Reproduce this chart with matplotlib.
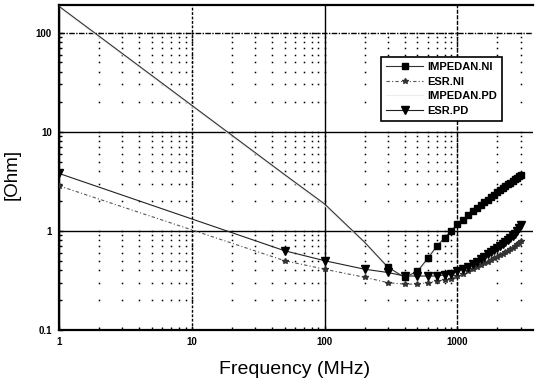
import numpy as np
import matplotlib
matplotlib.use("Agg")
import matplotlib.pyplot as plt
from matplotlib.ticker import FixedLocator, FixedFormatter, NullFormatter

plt.rcParams['font.family'] = ['Liberation Sans', 'DejaVu Sans']

# frequency points (MHz)
freq_low = [1, 50, 100, 200, 300]
freq_high = [400, 500, 600, 700, 800, 900, 1000, 1100, 1200, 1300, 1400,
             1500, 1600, 1700, 1800, 1900, 2000, 2100, 2200, 2300, 2400,
             2500, 2600, 2700, 2800, 2900, 3000]

# impedance / ESR values (Ohm)
imp_ni = [185, 3.7, 1.87, 0.77, 0.43,
          0.34, 0.39, 0.53, 0.70, 0.85, 1.0, 1.17, 1.3, 1.45, 1.58, 1.7,
          1.83, 1.95, 2.07, 2.2, 2.32, 2.45, 2.57, 2.7, 2.82, 2.95,
          3.07, 3.2, 3.33, 3.45, 3.58, 3.7]
esr_ni = [2.85, 0.5, 0.41, 0.34, 0.30,
          0.29, 0.29, 0.30, 0.31, 0.32, 0.33, 0.35, 0.37, 0.39, 0.41, 0.43,
          0.45, 0.47, 0.49, 0.51, 0.53, 0.55, 0.57, 0.59, 0.61, 0.63,
          0.65, 0.67, 0.70, 0.73, 0.76, 0.79]
imp_pd = [180, 3.6, 1.8, 0.75, 0.42,
          0.34, 0.38, 0.50, 0.66, 0.82, 0.97, 1.13, 1.27, 1.42, 1.55, 1.68,
          1.8, 1.93, 2.05, 2.18, 2.3, 2.43, 2.55, 2.68, 2.8, 2.93,
          3.05, 3.18, 3.3, 3.43, 3.56, 3.68]
esr_pd = [3.8, 0.63, 0.50, 0.41, 0.38,
          0.35, 0.35, 0.35, 0.35, 0.36, 0.37, 0.39, 0.41, 0.43, 0.46, 0.49,
          0.52, 0.55, 0.58, 0.61, 0.64, 0.67, 0.70, 0.73, 0.77, 0.81,
          0.85, 0.89, 0.94, 1.0, 1.07, 1.15]

freq = freq_low + freq_high

x_major = [1, 10, 100, 1000]
y_major = [0.1, 1, 10, 100]

fig = plt.figure(figsize=(5.35, 3.85), dpi=100)
ax = fig.add_axes([0.110, 0.143, 0.886, 0.844])

ax.set_xscale('log')
ax.set_yscale('log')
ax.set_xlim(1, 3700)
ax.set_ylim(0.1, 190)

# minor grid drawn as dots where the minor lines cross
x_minor = [d * k for d in x_major for k in range(1, 10) if d * k <= 3700]
y_minor = [d * k for d in y_major for k in range(1, 10) if d * k <= 190]
gx, gy = np.meshgrid(x_minor, y_minor)
ax.plot(gx.ravel(), gy.ravel(), linestyle='none', marker='s', markersize=1.1,
        markeredgewidth=0, color='black', zorder=1)

# major grid, each line with its own style like the scan
ax.grid(which='major', color='black', linewidth=1.0)
xstyles = {1: '-', 10: (0, (2, 1.2)), 100: '-', 1000: (0, (3, 1))}
ystyles = {0.1: '-', 1: '-', 10: '-', 100: (0, (4, 1, 1, 1))}
for val, gl in zip(x_major, ax.get_xgridlines()):
    gl.set_linestyle(xstyles[val])
for val, gl in zip(y_major, ax.get_ygridlines()):
    gl.set_linestyle(ystyles[val])
ax.set_axisbelow(True)

ax.plot(freq, imp_pd, color='#ececec', linewidth=0.8, label='IMPEDAN.PD', zorder=2)
ax.plot(freq, esr_ni, color='#555555', linestyle=(0, (3, 2, 1, 2)), linewidth=0.8,
        marker='*', markersize=4, markerfacecolor='#333333', markeredgecolor='#333333',
        label='ESR.NI', zorder=3)
ax.plot(freq, esr_pd, color='#222222', linestyle='-', linewidth=0.8,
        marker='v', markersize=6, markerfacecolor='black', markeredgecolor='black',
        label='ESR.PD', zorder=4)
ax.plot(freq, imp_ni, color='#333333', linestyle='-', linewidth=0.8,
        marker='s', markersize=5, markerfacecolor='black', markeredgecolor='black',
        markevery=slice(4, None), label='IMPEDAN.NI', zorder=5)

ax.xaxis.set_major_locator(FixedLocator(x_major))
ax.xaxis.set_major_formatter(FixedFormatter(['1', '10', '100', '1000']))
ax.yaxis.set_major_locator(FixedLocator(y_major))
ax.yaxis.set_major_formatter(FixedFormatter(['0.1', '1', '10', '100']))
ax.xaxis.set_minor_locator(FixedLocator(x_minor))
ax.yaxis.set_minor_locator(FixedLocator(y_minor))
ax.xaxis.set_minor_formatter(NullFormatter())
ax.yaxis.set_minor_formatter(NullFormatter())

ax.tick_params(which='both', direction='in', labelsize=7, width=1)
ax.tick_params(which='major', length=3, pad=5)
ax.tick_params(which='minor', length=2)
for lab in ax.get_xticklabels() + ax.get_yticklabels():
    lab.set_fontweight('bold')

for side in ['left', 'bottom', 'top']:
    ax.spines[side].set_linewidth(1.6)
ax.spines['right'].set_visible(False)

fig.text(295 / 535, 1 - 370 / 385, 'Frequency (MHz)', fontsize=14,
         ha='center', va='center')
fig.text(12 / 535, 1 - 174 / 385, '[Ohm]', fontsize=13.5, rotation=90,
         ha='center', va='center')

handles, labels = ax.get_legend_handles_labels()
order = ['IMPEDAN.NI', 'ESR.NI', 'IMPEDAN.PD', 'ESR.PD']
hmap = dict(zip(labels, handles))
leg = ax.legend([hmap[k] for k in order], order, loc='upper left',
                bbox_to_anchor=(0.679, 0.84), fontsize=8, frameon=True,
                fancybox=False, edgecolor='black', framealpha=1,
                handlelength=3.4, borderpad=0.45, labelspacing=0.42,
                handletextpad=0.35, borderaxespad=0)
leg.get_frame().set_linewidth(1.2)
for t in leg.get_texts():
    t.set_fontweight('bold')

fig.savefig('out.png', dpi=100)
